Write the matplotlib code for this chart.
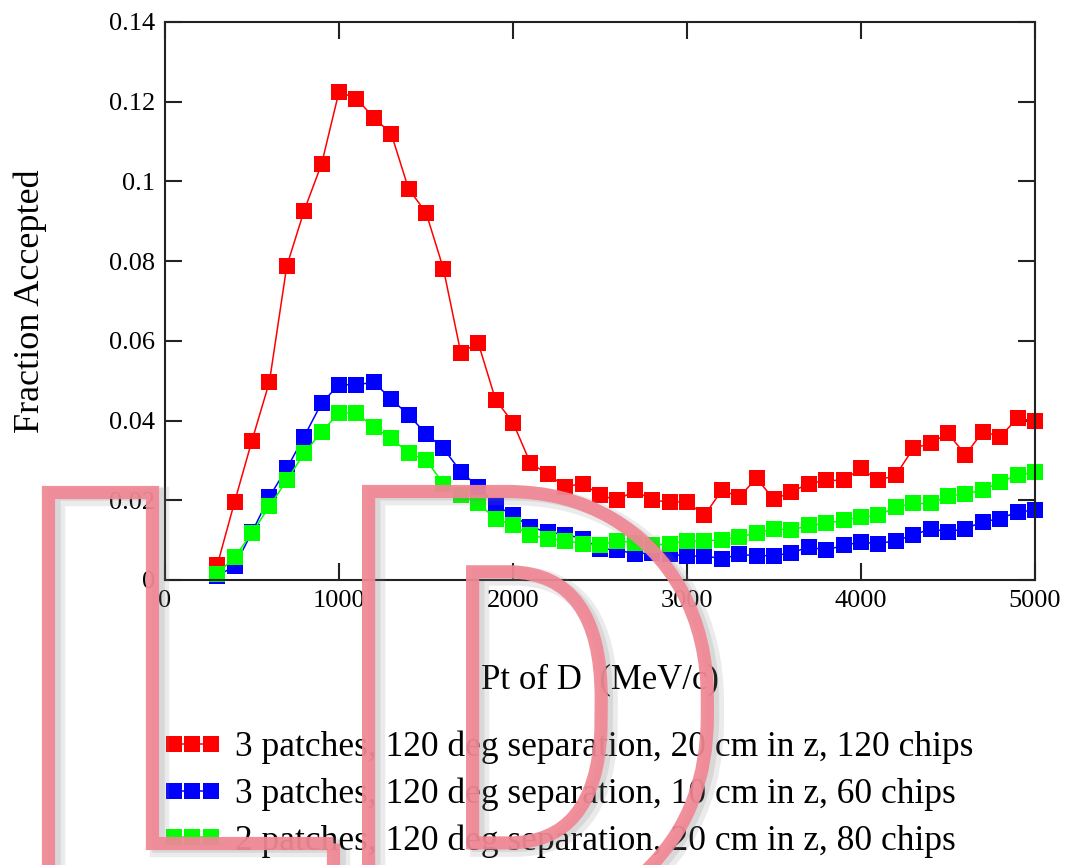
import matplotlib
matplotlib.use("Agg")
import matplotlib.pyplot as plt
import matplotlib.patheffects as pe
from matplotlib.ticker import FuncFormatter

pt_values = [300, 400, 500, 600, 700, 800, 900, 1000, 1100, 1200, 1300, 1400,
             1500, 1600, 1700, 1800, 1900, 2000, 2100, 2200, 2300, 2400, 2500,
             2600, 2700, 2800, 2900, 3000, 3100, 3200, 3300, 3400, 3500, 3600,
             3700, 3800, 3900, 4000, 4100, 4200, 4300, 4400, 4500, 4600, 4700,
             4800, 4900, 5000]

red_120chips = [0.0037, 0.0196, 0.0350, 0.0497, 0.0788, 0.0927, 0.1044, 0.1225,
                0.1208, 0.1160, 0.1120, 0.0981, 0.0922, 0.0781, 0.0570, 0.0595,
                0.0452, 0.0395, 0.0293, 0.0266, 0.0234, 0.0242, 0.0213, 0.0200,
                0.0225, 0.0200, 0.0196, 0.0196, 0.0162, 0.0225, 0.0209, 0.0255,
                0.0202, 0.0221, 0.0242, 0.0250, 0.0250, 0.0280, 0.0250, 0.0263,
                0.0330, 0.0343, 0.0368, 0.0314, 0.0372, 0.0360, 0.0406, 0.0398]

blue_60chips = [0.0010, 0.0035, 0.0120, 0.0209, 0.0280, 0.0360, 0.0444, 0.0490,
                0.0490, 0.0496, 0.0454, 0.0414, 0.0367, 0.0330, 0.0272, 0.0234,
                0.0188, 0.0162, 0.0133, 0.0120, 0.0114, 0.0104, 0.0079, 0.0075,
                0.0066, 0.0068, 0.0066, 0.0059, 0.0061, 0.0053, 0.0064, 0.0061,
                0.0061, 0.0068, 0.0083, 0.0075, 0.0087, 0.0095, 0.0091, 0.0099,
                0.0112, 0.0129, 0.0121, 0.0129, 0.0146, 0.0154, 0.0171, 0.0175]

green_80chips = [0.0016, 0.0057, 0.0118, 0.0185, 0.0250, 0.0318, 0.0372, 0.0419,
                 0.0419, 0.0383, 0.0356, 0.0318, 0.0301, 0.0242, 0.0213, 0.0192,
                 0.0154, 0.0137, 0.0112, 0.0104, 0.0099, 0.0091, 0.0087, 0.0099,
                 0.0093, 0.0087, 0.0091, 0.0098, 0.0098, 0.0101, 0.0108, 0.0118,
                 0.0129, 0.0125, 0.0137, 0.0142, 0.0150, 0.0158, 0.0162, 0.0183,
                 0.0192, 0.0192, 0.0210, 0.0217, 0.0225, 0.0246, 0.0263, 0.0271]

series_labels = ["3 patches, 120 deg separation, 20 cm in z, 120 chips",
                 "3 patches, 120 deg separation, 10 cm in z, 60 chips",
                 "2 patches, 120 deg separation, 20 cm in z, 80 chips"]
series_colors = ["#ff0000", "#0000ff", "#00ff00"]

x_ticks = [0, 1000, 2000, 3000, 4000, 5000]
y_ticks = [0, 0.02, 0.04, 0.06, 0.08, 0.10, 0.12, 0.14]
x_label = "Pt of D  (MeV/c)"
y_label = "Fraction Accepted"
watermark_letters = ["D", "L", "D"]

W, H = 1077, 865
plt.rcParams['font.family'] = ['Liberation Serif', 'DejaVu Serif']
fig = plt.figure(figsize=(W / 100, H / 100), dpi=100)
fig.patch.set_facecolor("white")

left, right, top, bottom = 165, 1035, 22, 580
ax = fig.add_axes([left / W, 1 - bottom / H, (right - left) / W, (bottom - top) / H])

for vals, col, lab in zip([red_120chips, blue_60chips, green_80chips], series_colors, series_labels):
    ax.plot(pt_values, vals, color=col, lw=1.1, marker='s', ms=11, mew=0,
            mfc=col, label=lab, clip_on=False)

ax.set_xlim(0, 5000)
ax.set_ylim(0, 0.14)
ax.set_xticks(x_ticks)
ax.set_yticks(y_ticks)
ax.yaxis.set_major_formatter(FuncFormatter(lambda v, p: "%g" % round(v, 4)))
ax.xaxis.set_major_formatter(FuncFormatter(lambda v, p: "%d" % v))
ax.tick_params(direction='in', length=12, width=1.5, labelsize=19, pad=7,
               top=True, right=True, color='#222222')
for s in ax.spines.values():
    s.set_linewidth(1.5)
    s.set_color('#222222')

ax.set_xlabel(x_label, fontsize=25)
ax.xaxis.set_label_coords(0.5, -(680 - bottom) / (bottom - top))
ax.xaxis.label.set_va('center')
ax.set_ylabel(y_label, fontsize=26)
ax.yaxis.set_label_coords(-(left - 30) / (right - left), 0.5)
ax.yaxis.label.set_va('center')

leg = ax.legend(loc='upper left', bbox_to_anchor=(163 / W, 1 - 731 / H),
                bbox_transform=fig.transFigure, frameon=False, fontsize=25.5,
                numpoints=3, handlelength=1.65, handletextpad=0.37,
                labelspacing=0.37, borderpad=0, borderaxespad=0, markerscale=1.0)

# watermark letters (outlined, semi-transparent)
wm_centers = [-194, 180, 532]
effects = [pe.PathPatchEffect(offset=(5, -3), edgecolor='#888888', facecolor='none',
                              linewidth=14, alpha=0.16),
           pe.PathPatchEffect(offset=(4, -2), edgecolor='#666666', facecolor='none',
                              linewidth=9, alpha=0.14),
           pe.PathPatchEffect(edgecolor='#f08894', facecolor='none',
                              linewidth=9.5, alpha=0.93)]
for letter, cx in zip(watermark_letters, wm_centers):
    fig.text(cx / W, 1 - 923 / H, letter, fontsize=437, family='Roboto',
             fontweight='black', color='#f08894', ha='center', va='baseline',
             path_effects=effects, zorder=10)

fig.savefig("out.png", dpi=100, facecolor="white")
